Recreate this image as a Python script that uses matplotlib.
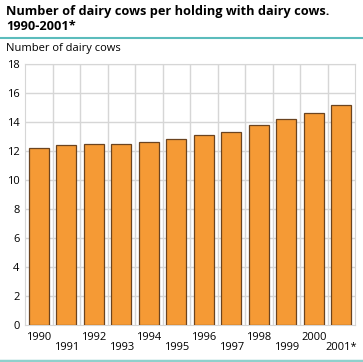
import matplotlib
matplotlib.use("Agg")
import matplotlib.pyplot as plt
import matplotlib.transforms as mtransforms
from matplotlib.lines import Line2D
import numpy as np

years = ["1990", "1991", "1992", "1993", "1994", "1995", "1996", "1997",
         "1998", "1999", "2000", "2001*"]
values = [12.2, 12.4, 12.5, 12.5, 12.6, 12.8, 13.1, 13.3, 13.8, 14.2, 14.6, 15.2]

plt.rcParams['font.family'] = ['Open Sans', 'DejaVu Sans']

W, H = 363, 362
fig = plt.figure(figsize=(W / 100, H / 100), dpi=100)

left, right, top, bottom = 25, 355, 64, 325
ax = fig.add_axes([left / W, 1 - bottom / H, (right - left) / W, (bottom - top) / H])

x = np.arange(len(years))
ax.bar(x, values, width=0.72, color="#f59a35", edgecolor="#6b4420", linewidth=0.9, zorder=3)

ax.set_xlim(-0.5, len(years) - 0.5)
ax.set_ylim(0, 18)
ax.set_yticks(np.arange(0, 19, 2))
ax.tick_params(axis='y', length=0, labelsize=8, pad=4)
ax.set_xticks([])

# staggered category labels
trans = mtransforms.blended_transform_factory(ax.transData, fig.transFigure)
for i, lab in enumerate(years):
    ypix = 338 if i % 2 == 0 else 348
    ax.text(i, 1 - ypix / H, lab, transform=trans, ha='center', va='center', fontsize=8)

# grid
for yv in np.arange(2, 19, 2):
    ax.axhline(yv, color="#d6d6d6", linewidth=1.0, zorder=1)
for b in np.arange(0.5, len(years) - 0.5, 1):
    ax.axvline(b, color="#d6d6d6", linewidth=1.0, zorder=1)
for s in ax.spines.values():
    s.set_color("#d6d6d6")

fig.text(6 / W, 1 - 12 / H, "Number of dairy cows per holding with dairy cows.",
         fontsize=9.2, fontweight='bold', ha='left', va='center')
fig.text(6 / W, 1 - 27 / H, "1990-2001*", fontsize=9.2, fontweight='bold', ha='left', va='center')
fig.text(6 / W, 1 - 49 / H, "Number of dairy cows", fontsize=8, ha='left', va='center')

fig.add_artist(Line2D([0, 1], [1 - 37.5 / H, 1 - 37.5 / H], transform=fig.transFigure,
                      color="#5bbcbc", linewidth=1.5))
fig.add_artist(Line2D([0, 1], [1 - 360.5 / H, 1 - 360.5 / H], transform=fig.transFigure,
                      color="#8fd0cc", linewidth=2.5))

fig.savefig("out.png", dpi=100)
